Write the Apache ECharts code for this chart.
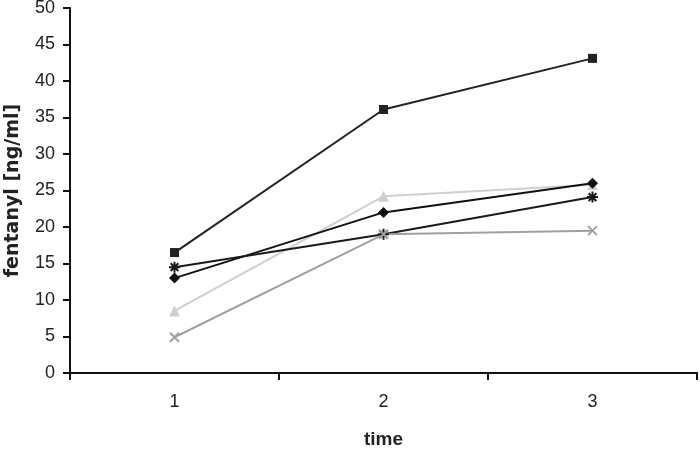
<!DOCTYPE html>
<html>
<head>
<meta charset="utf-8">
<script src="https://cdn.jsdelivr.net/npm/echarts@6/dist/echarts.min.js"></script>
<style>
  html, body { margin: 0; padding: 0; background: #fff; }
  #chart { width: 700px; height: 449px; }
</style>
</head>
<body>
<div id="chart"></div>
<script>
const categories = ['1', '2', '3']
const squareSeries = [16.5, 36.1, 43.1]
const diamondSeries = [13.0, 22.0, 26.0]
const triangleSeries = [8.5, 24.2, 25.8]
const starSeries = [14.5, 19.0, 24.1]
const crossSeries = [4.9, 19.0, 19.5]

const starPath = 'path://M0,5 L10,5 M5,0 L5,10 M1.5,1.5 L8.5,8.5 M8.5,1.5 L1.5,8.5'
const crossPath = 'path://M0,0 L10,10 M10,0 L0,10'

const axisColor = '#111'
const textColor = '#222'

const makeLine = (name, data, color, symbol, size, strokeOnly) => ({
  name,
  type: 'line',
  data,
  symbol,
  symbolSize: size,
  showSymbol: true,
  lineStyle: { color, width: 2 },
  itemStyle: strokeOnly
    ? { color: 'none', borderColor: color, borderWidth: 2 }
    : { color, borderColor: color, borderWidth: 0 },
  emphasis: { disabled: true }
})

const chart = echarts.init(document.getElementById('chart'))
chart.setOption({
  backgroundColor: '#fff',
  animation: false,
  grid: { left: 70, right: 3, top: 8, bottom: 76, containLabel: false, outerBoundsMode: 'none' },
  xAxis: {
    type: 'category',
    data: categories,
    boundaryGap: true,
    name: 'time',
    nameLocation: 'middle',
    nameGap: 57,
    nameTextStyle: { color: textColor, fontSize: 19, fontWeight: 'bold', fontFamily: 'Liberation Sans' },
    axisLine: { lineStyle: { color: axisColor, width: 2 } },
    axisTick: { show: true, length: 7, alignWithLabel: false, lineStyle: { color: axisColor, width: 2 } },
    axisLabel: { color: textColor, fontSize: 18, margin: 20, fontFamily: 'Liberation Sans' }
  },
  yAxis: {
    type: 'value',
    min: 0,
    max: 50,
    interval: 5,
    name: 'fentanyl [ng/ml]',
    nameLocation: 'middle',
    nameGap: 47,
    nameTextStyle: { color: textColor, fontSize: 19, fontWeight: 'bold', fontFamily: 'DejaVu Sans' },
    axisLine: { show: true, lineStyle: { color: axisColor, width: 2 } },
    axisTick: { show: true, length: 7, lineStyle: { color: axisColor, width: 2 } },
    splitLine: { show: false },
    axisLabel: { color: textColor, fontSize: 18, margin: 15, fontFamily: 'Liberation Sans' }
  },
  series: [
    makeLine('square', squareSeries, '#222', 'rect', 9, false),
    makeLine('triangle', triangleSeries, '#cfcfcf', 'triangle', 11, false),
    makeLine('diamond', diamondSeries, '#111', 'diamond', 11, false),
    makeLine('star', starSeries, '#1a1a1a', starPath, 11, true),
    makeLine('cross', crossSeries, '#a0a0a0', crossPath, 9, true)
  ]
})
</script>
</body>
</html>
